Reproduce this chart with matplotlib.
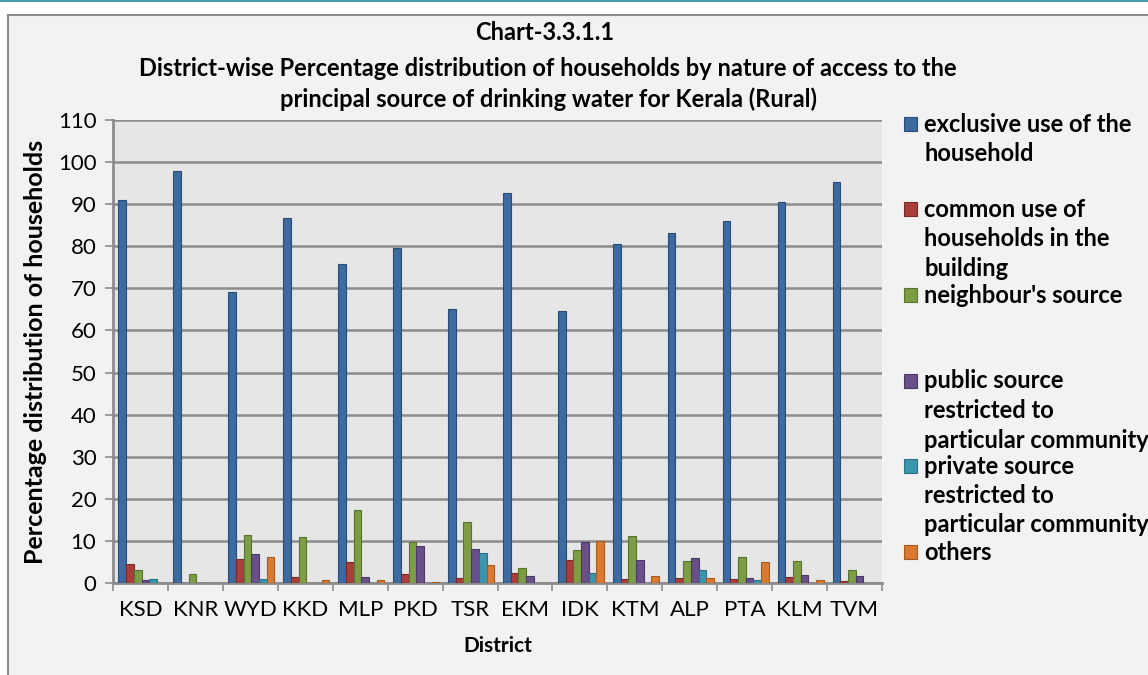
import numpy as np
import matplotlib
matplotlib.use("Agg")
import matplotlib.pyplot as plt
from matplotlib.patches import Rectangle
from matplotlib.lines import Line2D

plt.rcParams['font.family'] = ['Lato', 'DejaVu Sans']

# data
districts = ['KSD', 'KNR', 'WYD', 'KKD', 'MLP', 'PKD', 'TSR',
             'EKM', 'IDK', 'KTM', 'ALP', 'PTA', 'KLM', 'TVM']
exclusive = [91.0, 98.0, 69.2, 86.8, 75.7, 79.5, 65.2, 92.7, 64.6, 80.6, 83.1, 86.1, 90.6, 95.2]
common = [4.4, 0.0, 5.6, 1.4, 5.0, 2.1, 1.3, 2.3, 5.5, 0.9, 1.3, 1.0, 1.4, 0.4]
neighbour = [3.2, 2.1, 11.3, 10.9, 17.3, 9.7, 14.4, 3.5, 7.8, 11.1, 5.3, 6.2, 5.3, 3.0]
public = [0.7, 0.0, 7.0, 0.0, 1.5, 8.7, 8.0, 1.6, 9.8, 5.5, 5.9, 1.3, 1.8, 1.7]
private = [0.9, 0.0, 0.9, 0.0, 0.0, 0.0, 7.2, 0.0, 2.3, 0.0, 3.0, 0.7, 0.0, 0.0]
others = [0.0, 0.0, 6.2, 0.8, 0.7, 0.2, 4.3, 0.0, 10.0, 1.7, 1.3, 5.0, 0.8, 0.0]

series = [exclusive, common, neighbour, public, private, others]
legend_lines = [
    ['exclusive use of the', 'household'],
    ['common use of', 'households in the', 'building'],
    ["neighbour's source"],
    ['public source', 'restricted to', 'particular community'],
    ['private source', 'restricted to', 'particular community'],
    ['others'],
]
colors = ['#3d6aa0', '#a83f3c', '#7d9d45', '#6a5089', '#3b96ad', '#da7a30']
edges = ['#2a4d78', '#7a2a28', '#5a7330', '#4c3866', '#2a7085', '#a85a20']

W, H = 1148, 675
fig = plt.figure(figsize=(W / 100, H / 100), dpi=100, facecolor='white')

# outer chart frame and top rule (kept behind the axes)
fig.add_artist(Rectangle((8 / W, -0.01), 1.0, 1 - 15 / H + 0.01, transform=fig.transFigure,
                         facecolor='#f2f2f2', edgecolor='#8c8c8c', linewidth=1.5, zorder=-10))
fig.add_artist(Line2D([0, 1], [1 - 1 / H, 1 - 1 / H], transform=fig.transFigure,
                      color='#4a9bb0', linewidth=1.5, zorder=-10))

ax = fig.add_axes([113 / W, 1 - 583 / H, (882 - 113) / W, (583 - 120) / H])
ax.set_facecolor('#e6e6e6')

n = len(series)
bw = 0.14
x = np.arange(len(districts)) + 0.02
for i, vals in enumerate(series):
    ax.bar(x - n * bw / 2 + bw * (i + 0.5), vals, width=bw, color=colors[i],
           edgecolor=edges[i], linewidth=0.8, zorder=3)

ax.set_xlim(-0.5, len(districts) - 0.5)
ax.set_ylim(0, 110)
ax.set_yticks(np.arange(0, 111, 10))
ax.set_xticks(np.arange(len(districts)))
ax.set_xticklabels(districts)
ax.set_xticks(np.arange(-0.5, len(districts), 1), minor=True)
ax.tick_params(axis='x', which='major', length=0, pad=12, labelsize=16)
ax.tick_params(axis='x', which='minor', length=6, color='#8c8c8c', width=1.2)
ax.tick_params(axis='y', length=6, color='#8c8c8c', width=1.2, labelsize=16, pad=6)
ax.grid(axis='y', color='#8c8c8c', linewidth=1.8, zorder=0)
ax.set_axisbelow(True)
for side in ['top', 'right']:
    ax.spines[side].set_visible(False)
for side in ['left', 'bottom']:
    ax.spines[side].set_color('#8c8c8c')
    ax.spines[side].set_linewidth(2)

ax.set_ylabel('Percentage distribution of households', fontsize=18, fontweight='bold', labelpad=8)
ax.set_xlabel('District', fontsize=15, fontweight='bold', labelpad=12)

fig.text(545 / W, 1 - 33 / H, 'Chart-3.3.1.1', ha='center', va='center',
         fontsize=17, fontweight='bold')
fig.text(548 / W, 1 - 84 / H,
         'District-wise Percentage distribution of households by nature of access to the\n'
         'principal source of drinking water for Kerala (Rural)',
         ha='center', va='center', fontsize=17, fontweight='bold', linespacing=1.38)

# legend drawn by hand to keep Excel-like spacing
legend_y = [124, 209, 295, 381, 466, 552]
for i, lines in enumerate(legend_lines):
    y0 = legend_y[i]
    fig.add_artist(Rectangle((904 / W, 1 - (y0 + 7) / H), 13 / W, 14 / H,
                             transform=fig.transFigure, facecolor=colors[i],
                             edgecolor=edges[i], linewidth=0.8))
    for k, line in enumerate(lines):
        fig.text(924 / W, 1 - (y0 + k * 29.5) / H, line, ha='left', va='center',
                 fontsize=17, fontweight='bold')

fig.savefig('out.png', dpi=100, facecolor=fig.get_facecolor())
